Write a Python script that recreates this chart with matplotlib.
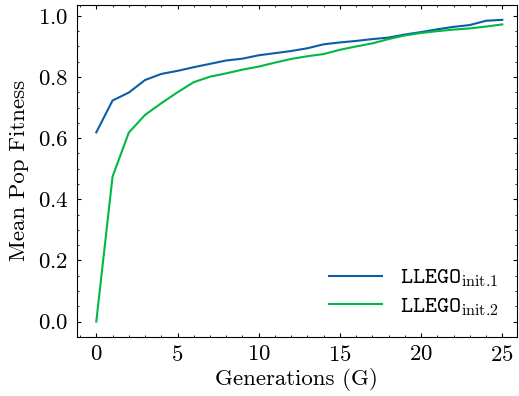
import matplotlib
matplotlib.use("Agg")
import matplotlib.pyplot as plt
import numpy as np
from matplotlib.ticker import MultipleLocator

# Mean population fitness per generation
generations = np.arange(26)
llego_init1 = [0.619, 0.723, 0.749, 0.790, 0.810, 0.820, 0.832, 0.843, 0.854, 0.860,
               0.871, 0.878, 0.885, 0.894, 0.907, 0.913, 0.918, 0.924, 0.929, 0.939,
               0.947, 0.956, 0.964, 0.970, 0.984, 0.987]
llego_init2 = [0.000, 0.474, 0.618, 0.676, 0.714, 0.750, 0.783, 0.801, 0.812, 0.824,
               0.834, 0.847, 0.859, 0.868, 0.875, 0.889, 0.900, 0.910, 0.924, 0.936,
               0.944, 0.950, 0.955, 0.959, 0.965, 0.972]

plt.rcParams.update({
    "font.family": "serif",
    "font.serif": ["cmr10"],
    "mathtext.fontset": "cm",
    "axes.formatter.use_mathtext": True,
    "font.size": 16.5,
    "axes.linewidth": 0.8,
    "xtick.direction": "in",
    "ytick.direction": "in",
    "xtick.top": True,
    "ytick.right": True,
    "xtick.major.size": 3,
    "ytick.major.size": 3,
    "xtick.minor.size": 1.5,
    "ytick.minor.size": 1.5,
    "xtick.major.width": 0.8,
    "ytick.major.width": 0.8,
    "xtick.minor.width": 0.6,
    "ytick.minor.width": 0.6,
    "xtick.major.pad": 6,
    "ytick.major.pad": 6,
    "xtick.minor.visible": True,
    "ytick.minor.visible": True,
})

fig = plt.figure(figsize=(5.19, 3.96), dpi=100)
ax = fig.add_axes([0.148, 0.150, 0.848, 0.838])

ax.plot(generations, llego_init1, color="#0C5DA5", lw=1.5,
        label=r"$\mathtt{LLEGO}_{\text{init.1}}$")
ax.plot(generations, llego_init2, color="#00B945", lw=1.5,
        label=r"$\mathtt{LLEGO}_{\text{init.2}}$")

ax.set_xlim(-1.2, 25.9)
ax.xaxis.set_major_locator(MultipleLocator(5))
ax.xaxis.set_minor_locator(MultipleLocator(1))
ax.yaxis.set_major_locator(MultipleLocator(0.2))
ax.yaxis.set_minor_locator(MultipleLocator(0.05))

ax.set_xlabel("Generations (G)", labelpad=2)
ax.set_ylabel("Mean Pop Fitness", labelpad=6)
ax.legend(loc="lower right", frameon=False, handlelength=2.3,
          labelspacing=0.3, borderaxespad=0.4)

fig.savefig("out.png", dpi=100)
